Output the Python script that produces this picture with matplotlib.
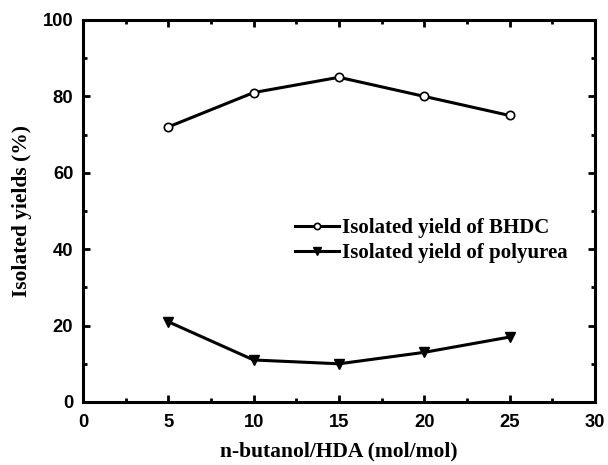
import matplotlib.pyplot as plt
from matplotlib.ticker import MultipleLocator

ratio = [5, 10, 15, 20, 25]
yield_bhdc = [72, 81, 85, 80, 75]
yield_polyurea = [21, 11, 10, 13, 17]

fig = plt.figure(figsize=(6.08, 4.65), dpi=100)
ax = fig.add_axes([0.1365, 0.1355, 0.842, 0.8215])

ax.plot(ratio, yield_bhdc, color='black', lw=2.2, marker='o', ms=6, mfc='white', mew=1.2,
        label='Isolated yield of BHDC')
ax.plot(ratio, yield_polyurea, color='black', lw=2.2, marker='v', ms=7.5,
        label='Isolated yield of polyurea')

ax.set_xlim(0, 30)
ax.set_ylim(0, 100)
ax.xaxis.set_major_locator(MultipleLocator(5))
ax.xaxis.set_minor_locator(MultipleLocator(2.5))
ax.yaxis.set_major_locator(MultipleLocator(20))
ax.yaxis.set_minor_locator(MultipleLocator(10))

for s in ax.spines.values():
    s.set_linewidth(2.2)
ax.tick_params(which='both', direction='in', top=True, right=True, width=2)
ax.tick_params(which='major', length=5, labelsize=13.2)
ax.tick_params(axis='x', which='major', pad=9)
ax.tick_params(axis='y', which='major', pad=7)
ax.tick_params(which='minor', length=3)
for lab in ax.get_xticklabels() + ax.get_yticklabels():
    lab.set_family('Liberation Sans')
    lab.set_fontweight('bold')

ax.set_xlabel('n-butanol/HDA (mol/mol)', family='Liberation Serif', fontweight='bold', fontsize=15.5, labelpad=7)
ax.set_ylabel('Isolated yields (%)', family='Liberation Serif', fontweight='bold', fontsize=15.5, labelpad=8)

ax.legend(loc='upper left', bbox_to_anchor=(0.414, 0.482), frameon=False, handlelength=2.1,
          handletextpad=0.15, labelspacing=0.25, borderpad=0, borderaxespad=0, markerscale=0.75,
          prop={'family': 'Liberation Serif', 'weight': 'bold', 'size': 15})

fig.savefig('out.png', dpi=100)
